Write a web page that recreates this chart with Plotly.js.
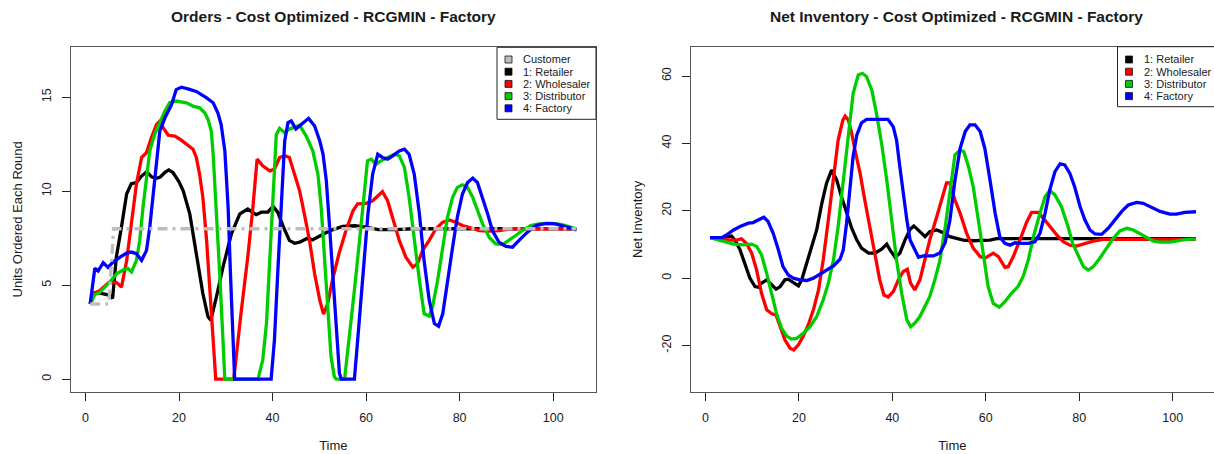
<!DOCTYPE html>
<html><head><meta charset="utf-8">
<script src="https://cdn.plot.ly/plotly-3.0.1.min.js"></script>
<style>html,body{margin:0;padding:0;background:#fff;overflow:hidden}#chart{width:1214px;height:454px}</style>
</head><body><div id="chart"></div><script>
// ---------- DATA ----------
const xTicks = [0, 20, 40, 60, 80, 100];
const yTicksOrders = [0, 5, 10, 15];
const yTicksInv = [-20, 0, 20, 40, 60];
const yTickTextInv = ['-20', '0', '20', '40', '60'];

const seriesNames = ['1: Retailer', '2: Wholesaler', '3: Distributor', '4: Factory'];
const customerName = 'Customer';

// Orders - Customer demand
const custT = [1, 5, 6, 105];
const custV = [4, 4, 8, 8];

// Orders - Retailer
const ordRetT = [1, 2, 2.7, 4, 5.2, 5.8, 6.6, 7.7, 8.8, 9.8, 10.9, 12, 13.1, 14.2, 15.2, 16, 17, 17.8, 18.7, 20, 20.9, 22.3, 23.7, 25.1, 26.2, 26.8, 28, 29.4, 31.2, 33, 34.7, 36.5, 37.6, 39, 40.1, 41.1, 42.2, 43.6, 44.7, 45.8, 47.5, 48.5, 50, 52.3, 55, 57.6, 60, 62.6, 66.4, 70, 80, 90, 100, 105];
const ordRetV = [4.0, 4.6, 4.6, 4.55, 4.46, 4.3, 6.5, 8.1, 9.85, 10.4, 10.46, 10.8, 11.03, 10.75, 10.68, 10.75, 11.0, 11.13, 10.99, 10.5, 10.02, 8.79, 6.67, 4.55, 3.32, 3.14, 4.38, 5.96, 7.73, 8.79, 9.05, 8.75, 8.88, 8.88, 9.19, 8.88, 8.17, 7.38, 7.23, 7.29, 7.5, 7.41, 7.6, 7.9, 8.12, 8.16, 8.09, 7.95, 7.95, 8.0, 8.0, 8.0, 8.0, 8.0];

// Orders - Wholesaler
const ordWhoT = [1, 2, 3, 4, 4.9, 6.6, 7.7, 8.8, 9.85, 10.9, 12, 13.05, 14.1, 15.2, 15.9, 16.6, 17.7, 19.1, 20.2, 21.6, 23, 23.7, 24.4, 25.1, 25.9, 26.6, 27.3, 27.85, 29.5, 31.7, 33.3, 34.7, 35.8, 36.7, 37.9, 39.4, 40.4, 41.5, 42.6, 43.6, 44.7, 45.8, 46.8, 47.9, 49, 50.1, 50.9, 51.8, 52.8, 54.2, 55.7, 57.2, 58.2, 60, 61.4, 62.5, 63.5, 64.6, 65.7, 67.1, 68.5, 70, 71, 72.1, 73.5, 74.9, 76.4, 77.8, 79.2, 80.6, 82, 84.2, 86.3, 88.4, 91.3, 95, 100, 105];
const ordWhoV = [4.0, 4.6, 4.7, 4.9, 5.12, 5.15, 4.9, 6.3, 8.43, 10.38, 11.79, 12.05, 12.85, 13.55, 13.73, 13.38, 12.97, 12.93, 12.76, 12.49, 12.23, 11.79, 10.9, 9.67, 7.38, 4.73, 2.08, 0, 0, 0, 3.6, 6.49, 9.14, 11.7, 11.35, 11.08, 11.17, 11.79, 11.88, 11.79, 10.9, 10.0, 8.79, 7.38, 5.61, 4.2, 3.46, 4.02, 5.26, 6.67, 7.9, 8.96, 9.32, 9.35, 9.49, 9.76, 9.97, 9.49, 8.61, 7.38, 6.49, 5.96, 6.14, 6.85, 7.38, 7.99, 8.35, 8.47, 8.35, 8.17, 8.08, 7.9, 7.87, 7.9, 8.0, 8.0, 8.0, 8.0];

// Orders - Distributor
const ordDisT = [1, 2, 3, 4, 5.2, 6.65, 8.1, 9.1, 9.85, 10.9, 11.6, 12.3, 13.05, 13.75, 14.8, 15.9, 17, 18, 19.4, 21.6, 23, 24.4, 25.5, 26.2, 26.9, 27.3, 28, 28.7, 29.4, 29.8, 36.9, 37.9, 38.7, 39.4, 40.1, 40.8, 41.5, 42.6, 43.6, 45.8, 47.2, 48.6, 49.7, 50.4, 51.1, 51.8, 52.5, 53.2, 53.6, 55.4, 56.4, 57.5, 58.6, 59.6, 60.3, 61.1, 62.1, 63.2, 64.6, 66, 67.1, 68.2, 69.2, 70.3, 71.4, 72.4, 73.5, 74.2, 75.3, 76.4, 77.4, 78.5, 79.5, 80.6, 81.7, 82.8, 83.8, 84.9, 86.3, 87.7, 89.2, 90.6, 92, 93.4, 95.2, 97, 99.8, 101.9, 105];
const ordDisV = [4.0, 4.5, 4.6, 4.85, 5.17, 5.61, 5.82, 5.88, 5.7, 6.32, 7.38, 9.14, 10.9, 12.14, 13.02, 13.64, 14.26, 14.7, 14.79, 14.7, 14.52, 14.43, 14.17, 13.82, 13.2, 11.96, 9.14, 5.61, 2.08, 0, 0, 1.02, 2.96, 6.49, 10.0, 13.0, 13.34, 13.1, 13.3, 13.5, 12.93, 12.14, 10.9, 9.14, 6.49, 3.85, 1.2, 0.14, 0, 0, 2.08, 4.73, 7.38, 10.02, 11.61, 11.7, 11.43, 11.61, 11.79, 11.96, 11.88, 11.26, 9.67, 7.38, 5.26, 3.49, 3.35, 3.85, 5.26, 7.02, 8.61, 9.67, 10.2, 10.34, 10.2, 9.67, 8.96, 8.26, 7.55, 7.2, 7.16, 7.38, 7.64, 7.9, 8.17, 8.26, 8.29, 8.22, 7.99];

// Orders - Factory
const ordFacT = [1, 2, 2.7, 3.8, 4.8, 5.8, 7.4, 8.8, 9.85, 10.9, 12, 13.05, 13.75, 14.5, 15.2, 15.9, 17, 18.4, 19.4, 20.5, 21.9, 23.7, 25.9, 27.3, 28.3, 29, 29.8, 30.5, 31, 31.5, 31.9, 39.7, 40.4, 41.1, 41.9, 42.6, 43.3, 44, 45, 46.5, 47.7, 49, 50.1, 50.8, 51.5, 52.2, 52.9, 53.6, 54.3, 54.7, 57.5, 58.2, 59.3, 60.4, 61.4, 62.5, 63.5, 64.6, 65.7, 67.1, 68.2, 69.2, 70.3, 71.4, 72.4, 73.5, 74.6, 75.5, 76.4, 77.4, 78.5, 79.5, 80.6, 81.7, 82.8, 83.8, 84.9, 86, 87, 88.4, 89.9, 91.3, 92.7, 94.5, 96.3, 98.4, 100.5, 102.7, 105];
const ordFacV = [4.0, 5.9, 5.75, 6.2, 5.95, 6.2, 6.49, 6.71, 6.76, 6.67, 6.32, 6.85, 8.08, 10.0, 11.79, 13.2, 13.9, 14.6, 15.4, 15.53, 15.44, 15.3, 14.96, 14.7, 14.17, 13.55, 12.14, 9.14, 5.61, 2.08, 0, 0, 2.08, 5.61, 9.14, 12.67, 13.64, 13.73, 13.3, 13.64, 13.87, 13.46, 12.67, 11.96, 10.55, 8.08, 5.26, 2.43, 0.32, 0, 0, 2.08, 5.26, 8.79, 10.9, 11.96, 11.79, 11.7, 11.88, 12.14, 12.23, 11.96, 10.9, 8.79, 6.32, 4.2, 2.96, 2.82, 3.49, 5.26, 7.02, 8.61, 9.85, 10.46, 10.69, 10.46, 9.67, 8.79, 7.9, 7.29, 7.06, 7.02, 7.38, 7.82, 8.17, 8.29, 8.26, 8.12, 7.94];

// Net Inventory - Retailer
const invRetT = [1, 3.8, 5.6, 6.3, 7.4, 8.45, 9.5, 10.6, 11.3, 12, 13.1, 14.2, 15.1, 16, 17, 17.7, 18.8, 19.9, 20.6, 21.7, 22.7, 23.8, 24.9, 25.9, 27, 28.1, 29.1, 30.2, 31.3, 32.4, 33.4, 34.9, 36.3, 37.7, 38.8, 39.5, 40.6, 41.6, 42.7, 43.8, 44.6, 45.9, 47, 48, 49.5, 50.9, 52.3, 55.2, 57.3, 60.9, 62.3, 70, 80, 90, 100, 105];
const invRetV = [12, 12, 12.5, 11.3, 8.4, 4.4, 0, -2.5, -2.7, -1.5, -0.5, -2, -3.3, -2.5, -0.5, -0.3, -1.3, -2.3, -0.5, 4.4, 9.35, 14.3, 22.2, 28.1, 32.1, 29.1, 24.2, 19.2, 14.8, 11.3, 8.9, 7.4, 7.4, 8.6, 10.1, 8.4, 6.2, 7.4, 11.3, 14.5, 15.5, 13.8, 12.3, 13.8, 14.3, 13.5, 12.3, 11.3, 11.1, 11.3, 11.7, 11.7, 11.7, 11.7, 11.7, 11.7];

// Net Inventory - Wholesaler
const invWhoT = [1, 3.8, 5.2, 6.7, 7.7, 8.8, 9.9, 10.95, 12, 13.1, 14.2, 15.1, 16, 17, 18.1, 18.9, 19.9, 20.9, 22, 23.1, 24.2, 25.2, 26.3, 27.4, 28.4, 29.4, 29.9, 30.6, 31.3, 32, 33.1, 34.1, 35.2, 36.3, 37.3, 38.2, 39.1, 40.2, 41.3, 42.3, 43.2, 43.9, 44.8, 45.9, 47, 48, 49.5, 50.9, 51.6, 52.3, 53.4, 54.5, 55.9, 57.3, 58.8, 59.8, 61.6, 62.7, 64.1, 64.8, 65.9, 67.3, 68.7, 69.8, 71.2, 72.3, 73.7, 75.2, 76.6, 78, 79.4, 80.9, 83, 85.1, 87.3, 90.2, 93, 100, 105];
const invWhoV = [12, 11.5, 11.3, 11.3, 11.7, 10.3, 7.4, 2.4, -4.5, -9.4, -10.6, -10.9, -14.4, -18.3, -20.8, -21.3, -19.8, -17.3, -13.9, -9.4, -3.5, 5.4, 17.3, 29.1, 41, 46.9, 48.1, 46.9, 43, 38, 31.1, 23.2, 15.3, 7.4, -0.5, -5, -5.6, -4, -0.5, 1.9, 2.6, -1.5, -3.5, -0.5, 5.4, 11.3, 18.2, 25.2, 28.3, 28.3, 23.2, 19.3, 13.3, 8.9, 6.4, 5.9, 7.4, 6.4, 3.2, 3.4, 6.4, 11.3, 16.5, 19.5, 19.5, 17.8, 15.3, 12.8, 10.8, 9.8, 9.5, 10.1, 11, 11.5, 11.5, 11.3, 11.3, 11.5, 11.5];

// Net Inventory - Distributor
const invDisT = [1, 3.8, 6, 8.1, 9.9, 11, 12, 13.1, 14.2, 15.2, 16.3, 17.4, 18.4, 19.5, 20.9, 22.4, 23.8, 25.2, 26.3, 27.4, 28.4, 29.5, 30.6, 31.6, 32.7, 33.6, 34.5, 35.6, 36.6, 37.7, 38.8, 39.8, 40.9, 42, 43.1, 43.9, 44.8, 45.9, 47, 48, 49.1, 50.2, 51.3, 52.3, 53.4, 54.5, 55.3, 56.3, 57.3, 58.4, 59.5, 60.5, 61.6, 62.9, 64.1, 65.5, 66.9, 68, 69.1, 70.2, 71.6, 72.7, 73.7, 74.8, 76.2, 77.6, 78.6, 79.8, 80.9, 81.9, 83, 84.4, 85.9, 87.3, 88.7, 90.2, 91.6, 93, 94.4, 95.9, 97.3, 99.4, 100.8, 102.9, 105];
const invDisV = [12, 11, 10.1, 9.85, 10.1, 9.35, 6.9, 1.4, -4.5, -10.4, -14.9, -17.2, -18.1, -17.9, -16.4, -14.4, -11.4, -6.5, -1.5, 5.4, 15.3, 29.1, 44, 54.8, 60.3, 60.8, 59.8, 55.8, 48.9, 40, 29.1, 17.3, 5.4, -4.5, -12.4, -14.4, -13.4, -11.4, -8.4, -5.5, -0.5, 5.4, 15, 26.2, 36.6, 38, 37.5, 33.1, 27.2, 17.3, 6.4, -2.5, -7.5, -8.6, -7, -4.5, -2.5, 0.5, 5.4, 12.3, 19.3, 24.2, 26, 24.7, 21.2, 15.3, 10.3, 6.4, 3.4, 2.4, 3.4, 5.9, 8.9, 11.8, 14, 14.8, 14.3, 13.3, 12.1, 11, 10.7, 10.7, 11, 11.5, 11.6];

// Net Inventory - Factory
const invFacT = [1, 3.5, 4.5, 6, 7.4, 9.2, 10.2, 11.3, 12.5, 13.4, 14.5, 15.6, 16.6, 17.7, 18.8, 20.2, 21.7, 23.1, 24.5, 25.9, 27.4, 28.8, 29.5, 30.2, 30.9, 31.6, 32.4, 33.4, 34.5, 36.6, 39.1, 40.2, 40.9, 41.6, 42.3, 43.1, 43.8, 44.6, 45.6, 46.6, 48.8, 50.2, 51.3, 52.3, 53.4, 54.5, 55.6, 56.6, 57.7, 58.8, 59.8, 60.9, 62, 63, 64.1, 65.2, 66.3, 67.7, 69.1, 70.5, 71.6, 72.7, 73.7, 74.8, 75.9, 76.9, 78, 79, 80.2, 81.2, 82.3, 83.4, 84.8, 86.2, 87.7, 89.1, 90.5, 92.3, 93.7, 95.5, 97.3, 99.4, 100.8, 102.6, 105];
const invFacV = [12, 12, 12.8, 14.3, 15.3, 16.3, 16.5, 17.3, 18.1, 16.8, 13.3, 8.4, 3.4, 1, 0, -0.5, -0.7, 0, 1.1, 2.2, 3.6, 5.6, 8.4, 16.3, 26.2, 36.1, 42.5, 46.1, 47.1, 47.1, 47.1, 44.9, 41, 33.1, 25.2, 17.3, 11.3, 8.9, 6.2, 6.6, 6.6, 7.5, 10.5, 17, 29, 38.5, 43.5, 45.5, 45.5, 43.5, 38.5, 29.1, 19.3, 12.3, 10.3, 9.8, 10.5, 10.3, 10.3, 10.8, 13.3, 19.3, 26.2, 31.6, 33.9, 33.6, 31.1, 27.2, 21.2, 17.3, 14.3, 13.1, 13, 14.8, 17.3, 19.8, 21.7, 22.5, 22.2, 21, 19.8, 19, 19, 19.5, 19.7];

// ---------- STYLE ----------
const W = 1214, H = 454;
const F = 'Liberation Sans, Arial, Helvetica, sans-serif';
const TXT = '#1a1a1a';
const colors = ['#000000', '#FF0000', '#00CD00', '#0000FF'];
const custColor = '#BEBEBE';
const LW = 3.3;
const px = v => v / W;
const py = v => 1 - v / H;

const traces = [];
const ordT = [ordRetT, ordWhoT, ordDisT, ordFacT];
const ordV = [ordRetV, ordWhoV, ordDisV, ordFacV];
const invT = [invRetT, invWhoT, invDisT, invFacT];
const invV = [invRetV, invWhoV, invDisV, invFacV];
for (let i = 0; i < 4; i++) {
  traces.push({x: ordT[i], y: ordV[i], type: 'scatter', mode: 'lines', name: seriesNames[i],
    line: {color: colors[i], width: LW}, xaxis: 'x', yaxis: 'y', showlegend: false, hoverinfo: 'skip'});
}
traces.push({x: custT, y: custV, type: 'scatter', mode: 'lines', name: customerName,
  line: {color: custColor, width: LW, dash: '10px,5px,3px,5px'}, xaxis: 'x', yaxis: 'y', showlegend: false, hoverinfo: 'skip'});
for (let i = 0; i < 4; i++) {
  traces.push({x: invT[i], y: invV[i], type: 'scatter', mode: 'lines', name: seriesNames[i],
    line: {color: colors[i], width: LW}, xaxis: 'x2', yaxis: 'y2', showlegend: false, hoverinfo: 'skip'});
}

const axBase = {showgrid: false, zeroline: false, showline: true, linecolor: '#555', linewidth: 1,
  ticks: 'outside', ticklen: 8, tickwidth: 1, tickcolor: '#222',
  tickfont: {family: F, size: 12.5, color: TXT}, fixedrange: true};
const yDom = [py(392), py(46.7)];
const titleFont = {family: F, size: 13, color: TXT};

const layout = {
  width: W, height: H, margin: {l: 0, r: 0, t: 0, b: 0},
  paper_bgcolor: '#fff', plot_bgcolor: '#fff', showlegend: false, hovermode: false,
  font: {family: F, color: TXT},
  xaxis: Object.assign({}, axBase, {domain: [px(70.7), px(596)], range: [-3.16, 109.16], tickvals: xTicks,
    mirror: true, anchor: 'y', ticklabelstandoff: 6,
    title: {text: 'Time', font: titleFont, standoff: 16}}),
  yaxis: Object.assign({}, axBase, {domain: yDom, range: [-0.68, 17.68], tickvals: yTicksOrders, tickangle: -90,
    mirror: true, anchor: 'x', ticklabelstandoff: 6,
    title: {text: 'Units Ordered Each Round', font: titleFont, standoff: 14}}),
  xaxis2: Object.assign({}, axBase, {domain: [px(690.7), 1], range: [-3.16, -3.16 + (W - 690.7) / 4.672], tickvals: xTicks,
    mirror: true, anchor: 'y2', ticklabelstandoff: 6,
    title: {text: 'Time', font: titleFont, standoff: 16}}),
  yaxis2: Object.assign({}, axBase, {domain: yDom, range: [-33.8, 68.7], tickvals: yTicksInv, ticktext: yTickTextInv,
    tickangle: -90, mirror: false, anchor: 'x2', ticklabelstandoff: 6,
    title: {text: 'Net Inventory', font: titleFont, standoff: 14}}),
  shapes: [],
  annotations: [
    {text: '<b>Orders - Cost Optimized - RCGMIN - Factory</b>', xref: 'paper', yref: 'paper', x: px(333.5), y: py(17),
      xanchor: 'center', yanchor: 'middle', showarrow: false, font: {family: F, size: 15.5, color: TXT}},
    {text: '<b>Net Inventory - Cost Optimized - RCGMIN - Factory</b>', xref: 'paper', yref: 'paper', x: px(956), y: py(17),
      xanchor: 'center', yanchor: 'middle', showarrow: false, font: {family: F, size: 15.5, color: TXT}}
  ]
};

// Legends (drawn like base R legends: framed box, filled squares)
function addLegend(x0, x1, y0, y1, sqX, txtX, rowsY, names, fills) {
  layout.shapes.push({type: 'rect', xref: 'paper', yref: 'paper', x0: px(x0), x1: px(x1), y0: py(y1), y1: py(y0),
    line: {color: '#222', width: 1}, fillcolor: '#fff', layer: 'above'});
  for (let i = 0; i < names.length; i++) {
    layout.shapes.push({type: 'rect', xref: 'paper', yref: 'paper', x0: px(sqX - 3.5), x1: px(sqX + 3.5),
      y0: py(rowsY[i] + 3.5), y1: py(rowsY[i] - 3.5), line: {color: '#111', width: 0.8}, fillcolor: fills[i], layer: 'above'});
    layout.annotations.push({text: names[i], xref: 'paper', yref: 'paper', x: px(txtX), y: py(rowsY[i]),
      xanchor: 'left', yanchor: 'middle', showarrow: false, font: {family: F, size: 11, color: TXT}});
  }
}
addLegend(497, 596, 47.3, 119.3, 508.5, 521, [59.5, 71.7, 83.9, 96.1, 108.3],
  [customerName].concat(seriesNames), [custColor].concat(colors));
addLegend(1117.5, 1220, 46.7, 106.7, 1129, 1142, [59.5, 71.7, 83.9, 96.1], seriesNames, colors);

Plotly.newPlot('chart', traces, layout, {staticPlot: true, displayModeBar: false});
</script></body></html>
